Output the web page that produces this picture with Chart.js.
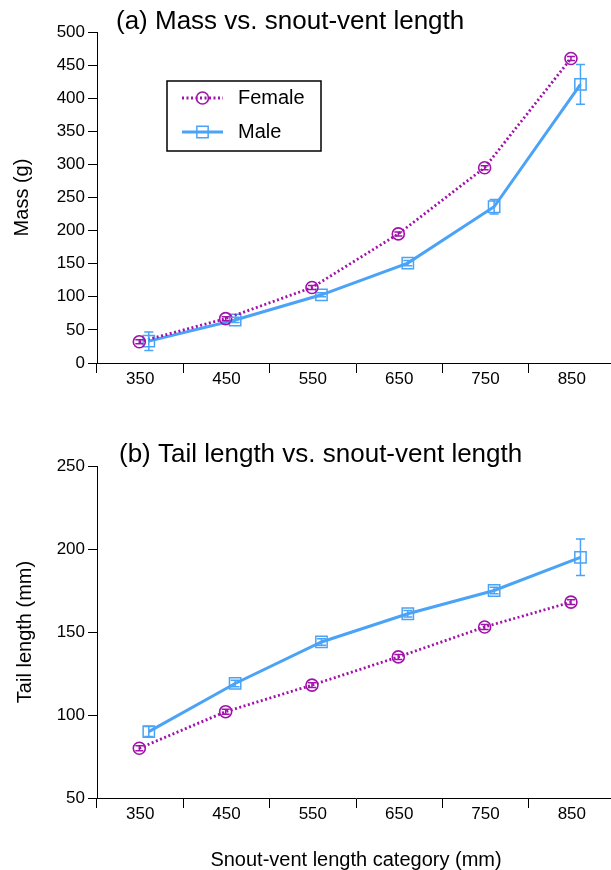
<!DOCTYPE html>
<html>
<head>
<meta charset="utf-8">
<script src="https://cdn.jsdelivr.net/npm/chart.js@4.4.1/dist/chart.umd.min.js"></script>
<style>
  html, body { margin: 0; padding: 0; background: #fff; overflow: hidden; }
  #wrap { width: 611px; height: 870px; overflow: hidden; }
  canvas { display: block; }
</style>
</head>
<body>
<div id="wrap">
  <canvas id="massChart" width="615" height="405"></canvas>
  <canvas id="tailChart" width="615" height="465"></canvas>
</div>
<script>
// ------------------------------------------------
// Mass and tail length by snout-vent length class
// ------------------------------------------------

// Snout-vent length categories (mm)
const svlLabels = ['350', '450', '550', '650', '750', '850'];
const svlValues = [350, 450, 550, 650, 750, 850];

// (a) Mass, g
const massFemale = [32, 67, 114, 195, 295, 460];
const massFemaleErr = [3, 3, 3, 3, 3, 3];
const massMale = [33, 65, 103, 151, 236, 421];
const massMaleErr = [14, 4, 3, 4, 11, 30];
const massTicks = [0, 50, 100, 150, 200, 250, 300, 350, 400, 450, 500];

// (b) Tail length, mm
const tailFemale = [80, 102, 118, 135, 153, 168];
const tailFemaleErr = [1.5, 1.5, 1.5, 1.5, 1.5, 1.5];
const tailMale = [90, 119, 144, 161, 175, 195];
const tailMaleErr = [3, 2, 2, 2, 2, 11];
const tailTicks = [50, 100, 150, 200, 250];

const FEMALE_COLOR = '#a012aa';
const MALE_COLOR = '#4aa3f7';
// female and male markers sit slightly apart inside each category (axis units)
const FEMALE_SHIFT = -1;
const MALE_SHIFT = 10;

Chart.defaults.font.family = '"Liberation Sans", Arial, Helvetica, sans-serif';
Chart.defaults.color = '#000';

function toPoints(values, shift) {
    return values.map((v, i) => ({ x: svlValues[i] + shift, y: v }));
}

// vertical error bars with caps, drawn on top of markers
const errorBars = {
    id: 'errorBars',
    afterDatasetsDraw(chart) {
        const { ctx } = chart;
        const yScale = chart.scales.y;
        chart.data.datasets.forEach((ds, i) => {
            const meta = chart.getDatasetMeta(i);
            ctx.save();
            ctx.strokeStyle = ds.borderColor;
            ctx.lineWidth = 1.5;
            meta.data.forEach((pt, j) => {
                const v = ds.data[j].y;
                const e = ds.errors[j];
                const top = yScale.getPixelForValue(v + e);
                const bot = yScale.getPixelForValue(v - e);
                const w = ds.capHalf;
                ctx.beginPath();
                ctx.moveTo(pt.x, top); ctx.lineTo(pt.x, bot);
                ctx.moveTo(pt.x - w, top); ctx.lineTo(pt.x + w, top);
                ctx.moveTo(pt.x - w, bot); ctx.lineTo(pt.x + w, bot);
                ctx.stroke();
            });
            ctx.restore();
        });
    }
};

// panel heading placed over the top of the plot
const panelTitle = {
    id: 'panelTitle',
    afterDraw(chart, args, opts) {
        const { ctx } = chart;
        ctx.save();
        ctx.font = `${opts.size}px ${Chart.defaults.font.family}`;
        ctx.fillStyle = '#000';
        ctx.textAlign = 'left';
        ctx.textBaseline = 'middle';
        ctx.fillText(opts.text, opts.x, opts.y);
        ctx.restore();
    }
};

// boxed legend with line + marker samples
const boxLegend = {
    id: 'boxLegend',
    afterDraw(chart, args, opts) {
        if (!opts.show) return;
        const { ctx } = chart;
        ctx.save();
        ctx.strokeStyle = '#000';
        ctx.lineWidth = 1.5;
        ctx.strokeRect(opts.left, opts.top, opts.width, opts.height);
        chart.data.datasets.forEach((ds, i) => {
            const y = opts.top + opts.rowStart + i * opts.rowGap;
            const x0 = opts.left + 15;
            const x1 = opts.left + 56;
            ctx.save();
            ctx.strokeStyle = ds.borderColor;
            ctx.lineWidth = ds.borderWidth;
            ctx.setLineDash(ds.borderDash || []);
            ctx.beginPath();
            ctx.moveTo(x0, y); ctx.lineTo(x1, y);
            ctx.stroke();
            ctx.restore();

            ctx.save();
            ctx.strokeStyle = ds.borderColor;
            ctx.lineWidth = ds.pointBorderWidth;
            ctx.fillStyle = 'rgba(0,0,0,0)';
            Chart.helpers.drawPoint(ctx, {
                pointStyle: ds.pointStyle,
                radius: ds.pointRadius,
                borderWidth: ds.pointBorderWidth
            }, (x0 + x1) / 2, y);
            ctx.restore();

            ctx.font = `20px ${Chart.defaults.font.family}`;
            ctx.fillStyle = '#000';
            ctx.textAlign = 'left';
            ctx.textBaseline = 'middle';
            ctx.fillText(ds.label, opts.left + 71, y);
        });
        ctx.restore();
    }
};

function femaleSet(values, errs) {
    return {
        label: 'Female',
        data: toPoints(values, FEMALE_SHIFT),
        errors: errs,
        capHalf: 4,
        xAxisID: 'xv',
        borderColor: FEMALE_COLOR,
        borderWidth: 2.8,
        borderDash: [2, 2.5],
        pointStyle: 'circle',
        pointRadius: 6,
        pointBorderWidth: 1.6,
        pointBorderColor: FEMALE_COLOR,
        pointBackgroundColor: 'rgba(255,255,255,0)',
        tension: 0
    };
}

function maleSet(values, errs) {
    return {
        label: 'Male',
        data: toPoints(values, MALE_SHIFT),
        errors: errs,
        capHalf: 4.5,
        xAxisID: 'xv',
        borderColor: MALE_COLOR,
        borderWidth: 3,
        pointStyle: 'rect',
        pointRadius: 8,
        pointBorderWidth: 1.5,
        pointBorderColor: MALE_COLOR,
        pointBackgroundColor: 'rgba(255,255,255,0)',
        tension: 0
    };
}

function makePanel(id, opt) {
    const ctx = document.getElementById(id).getContext('2d');
    return new Chart(ctx, {
        type: 'line',
        data: { datasets: opt.datasets },
        plugins: [errorBars, panelTitle, boxLegend],
        options: {
            responsive: false,
            animation: false,
            devicePixelRatio: 1,
            layout: { autoPadding: false, padding: { top: opt.padTop, right: 0, bottom: 0, left: 0 } },
            plugins: {
                legend: { display: false },
                tooltip: { enabled: false },
                panelTitle: { text: opt.title, x: opt.titleX, y: opt.titleY, size: 26 },
                boxLegend: opt.legend || { show: false }
            },
            scales: {
                x: {
                    type: 'category',
                    labels: svlLabels,
                    offset: true,
                    position: 'bottom',
                    grid: { offset: true, drawOnChartArea: false, tickLength: 10, color: '#000', lineWidth: 1 },
                    border: { color: '#000', width: 1 },
                    ticks: { font: { size: 17 }, padding: -4, maxRotation: 0, autoSkip: false },
                    title: opt.xTitle ? {
                        display: true,
                        text: opt.xTitle,
                        font: { size: 20, lineHeight: 1 },
                        padding: { top: 0, bottom: 0 }
                    } : { display: false },
                    afterFit: s => { s.height = opt.xHeight; }
                },
                xv: { type: 'linear', display: false, min: 300, max: 900 },
                y: {
                    min: opt.yTicks[0],
                    max: opt.yTicks[opt.yTicks.length - 1],
                    afterBuildTicks: s => { s.ticks = opt.yTicks.map(v => ({ value: v })); },
                    grid: { drawOnChartArea: false, tickLength: 9, color: '#000', lineWidth: 1 },
                    border: { color: '#000', width: 1 },
                    ticks: { font: { size: 17 }, padding: 3 },
                    title: {
                        display: true,
                        text: opt.yTitle,
                        font: { size: 20 },
                        padding: { top: opt.yTitlePad, bottom: 0 }
                    },
                    afterFit: s => { s.width = 97; }
                }
            }
        }
    });
}

makePanel('massChart', {
    datasets: [femaleSet(massFemale, massFemaleErr), maleSet(massMale, massMaleErr)],
    title: '(a) Mass vs. snout-vent length',
    titleX: 116, titleY: 22,
    padTop: 32,
    xHeight: 42,
    yTicks: massTicks,
    yTitle: 'Mass (g)',
    yTitlePad: 10,
    legend: { show: true, left: 167, top: 81, width: 154, height: 70, rowStart: 17, rowGap: 34 }
});

makePanel('tailChart', {
    datasets: [femaleSet(tailFemale, tailFemaleErr), maleSet(tailMale, tailMaleErr)],
    title: '(b) Tail length vs. snout-vent length',
    titleX: 119, titleY: 50,
    padTop: 61,
    xHeight: 72,
    xTitle: 'Snout-vent length category (mm)',
    yTicks: tailTicks,
    yTitle: 'Tail length (mm)',
    yTitlePad: 13
});
</script>
</body>
</html>
